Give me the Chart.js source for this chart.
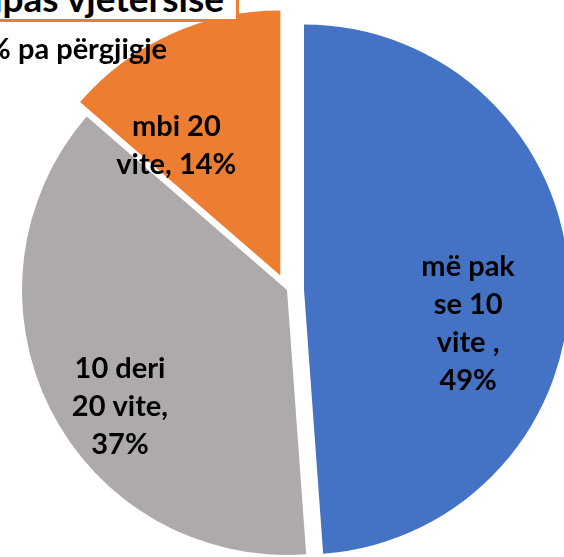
<!DOCTYPE html>
<html>
<head>
<meta charset="utf-8">
<script src="https://cdn.jsdelivr.net/npm/chart.js@4.4.1/dist/chart.umd.min.js"></script>
<style>
  html, body { margin: 0; padding: 0; background: #ffffff; overflow: hidden; }
  #wrap { position: relative; width: 564px; height: 557px; overflow: hidden; background: #ffffff; }
  #chart { position: absolute; left: 0; top: 0; }
  #titleBox { position: absolute; box-sizing: border-box; left: -300px; top: -40px; width: 539px; height: 62px;
              border: 3px solid #ED7D31; background: #ffffff; }
  #titleText { position: absolute; right: 340px; top: -21px; font: bold 37px Lato, "Noto Sans", sans-serif;
               line-height: 37px; white-space: nowrap; color: #000; }
  #noteText { position: absolute; right: 397px; top: 33px; font: bold 29px Lato, "Noto Sans", sans-serif;
              line-height: 29px; white-space: nowrap; color: #000; }
</style>
</head>
<body>
<div id="wrap">
  <canvas id="chart" width="564" height="557"></canvas>
  <div id="titleBox"></div>
  <div id="titleText">Mësuesit sipas vjetërsisë</div>
  <div id="noteText">1% pa përgjigje</div>
</div>
<script>
// ---- data ----
const categories = ["më pak se 10 vite ", "10 deri 20 vite", "mbi 20 vite"];
const shares = [48.7, 37.4, 13.6];

// ---- styles ----
const sliceColors = ["#4472C4", "#AEAAAA", "#ED7D31"];
const sliceExplode = [17, 0, 16];
const labelWrapWidth = [110, 115, 145];
const labelPlace = [ { f: 0.632, da: 13.6 }, { f: 0.766, da: -8.0 }, { f: 0.63, da: -14.0 } ];
const labelFont = "bold 29px Lato, 'Noto Sans', sans-serif";
const labelLineHeight = 38;

function wrapWords(ctx, text, maxW) {
  const words = text.split(" ").filter(w => w.length);
  const lines = [];
  let cur = "";
  words.forEach(w => {
    const test = cur ? cur + " " + w : w;
    if (cur && ctx.measureText(test).width > maxW) { lines.push(cur); cur = w; }
    else cur = test;
  });
  if (cur) lines.push(cur);
  return lines;
}

const explodePlugin = {
  id: 'explode',
  afterDatasetUpdate(chart, args) {
    const area = chart.chartArea;
    const cx = (area.left + area.right) / 2, cy = (area.top + area.bottom) / 2;
    args.meta.data.forEach((arc, i) => {
      const mid = (arc.startAngle + arc.endAngle) / 2;
      arc.x = cx + Math.cos(mid) * sliceExplode[i];
      arc.y = cy + Math.sin(mid) * sliceExplode[i];
    });
  }
};

const labelPlugin = {
  id: 'sliceLabels',
  afterDatasetsDraw(chart) {
    const ctx = chart.ctx;
    const meta = chart.getDatasetMeta(0);
    const ds = chart.data.datasets[0];
    ctx.save();
    ctx.font = labelFont;
    ctx.fillStyle = "#000000";
    ctx.textAlign = "center";
    ctx.textBaseline = "alphabetic";
    const capHalf = 0.7165 * 29 / 2;
    meta.data.forEach((arc, i) => {
      const p = labelPlace[i];
      const mid = (arc.startAngle + arc.endAngle) / 2 + p.da * Math.PI / 180;
      const px = arc.x + Math.cos(mid) * arc.outerRadius * p.f;
      const py = arc.y + Math.sin(mid) * arc.outerRadius * p.f;
      const text = chart.data.labels[i] + ", " + Math.round(ds.data[i]) + "%";
      const lines = wrapWords(ctx, text, labelWrapWidth[i]);
      const n = lines.length;
      lines.forEach((ln, k) => {
        const y = py + (k - (n - 1) / 2) * labelLineHeight + capHalf;
        ctx.fillText(ln, px, y);
      });
    });
    ctx.restore();
  }
};

function draw() {
  new Chart(document.getElementById('chart'), {
    type: 'pie',
    data: {
      labels: categories,
      datasets: [{
        data: shares,
        backgroundColor: sliceColors,
        borderWidth: 0,
        radius: 265,
        clip: false,
        hoverOffset: 0
      }]
    },
    options: {
      responsive: false,
      animation: false,
      events: [],
      layout: { padding: { left: 10, top: 23, right: 0, bottom: 0 } },
      plugins: { legend: { display: false }, tooltip: { enabled: false }, title: { display: false } }
    },
    plugins: [explodePlugin, labelPlugin]
  });
}
if (document.fonts && document.fonts.load) {
  document.fonts.load(labelFont).then(draw, draw);
} else { draw(); }
</script>
</body>
</html>
